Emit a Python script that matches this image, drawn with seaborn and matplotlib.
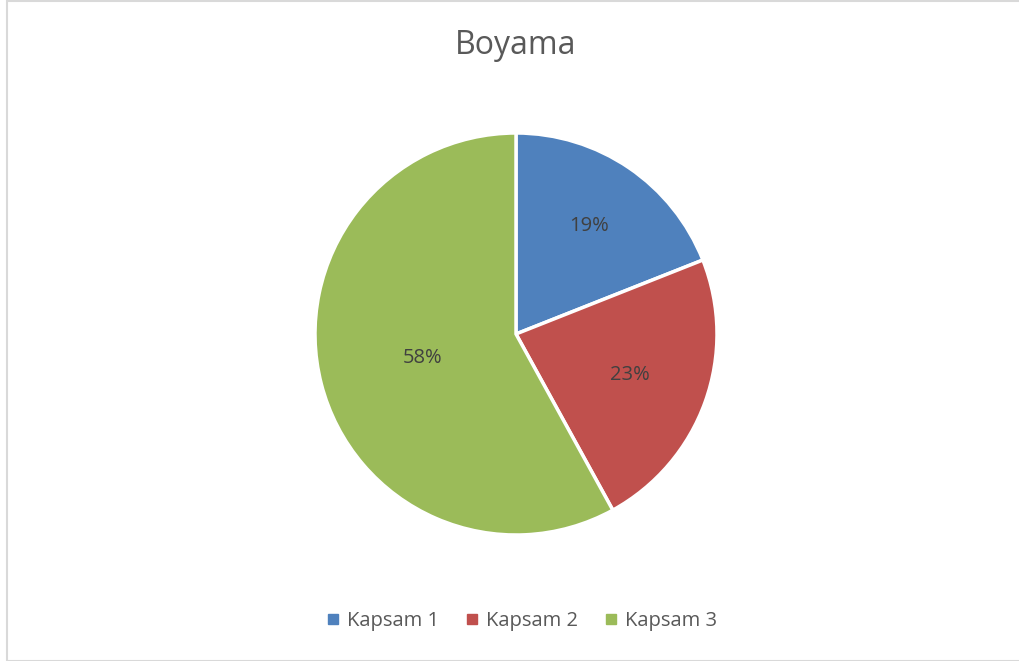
import matplotlib
matplotlib.use("Agg")
import numpy as np
import matplotlib.pyplot as plt
from matplotlib.patches import Rectangle
from matplotlib.lines import Line2D
import seaborn as sns

categories = ["Kapsam 1", "Kapsam 2", "Kapsam 3"]
values = [19, 23, 58]
colors = ["#4F81BD", "#C0504D", "#9BBB59"]
title = "Boyama"
label_dist = [0.65, 0.60, 0.48]

sns.set_theme(style="white")
plt.rcParams["font.family"] = ["Open Sans", "DejaVu Sans"]

W, H = 1020, 661
fig = plt.figure(figsize=(W / 100, H / 100), dpi=100)
fig.patch.set_facecolor("white")

# pie axes: center (516,334), radius 201 px
cx, cy, r = 516, 334, 201
ax = fig.add_axes([(cx - r) / W, (H - cy - r) / H, 2 * r / W, 2 * r / H])
wedges, texts, autotexts = ax.pie(
    values, colors=colors, startangle=90, counterclock=False,
    autopct="%1.0f%%", pctdistance=0.64,
    wedgeprops=dict(edgecolor="white", linewidth=2.5),
    textprops=dict(color="#404040", fontsize=14.5),
)
for w, t, d in zip(wedges, autotexts, label_dist):
    ang = np.deg2rad((w.theta1 + w.theta2) / 2)
    t.set_position((d * np.cos(ang), d * np.sin(ang)))
ax.set_xlim(-1.0, 1.0)
ax.set_ylim(-1.0, 1.0)
ax.set_aspect("equal")
ax.axis("off")

fig.text(516 / W, 1 - 46 / H, title, ha="center", va="center",
         fontsize=23, color="#595959")

handles = [Line2D([0], [0], marker="s", linestyle="none", markersize=7,
                  markerfacecolor=c, markeredgecolor=c) for c in colors]
fig.legend(handles, categories, loc="center", bbox_to_anchor=(521 / W, 1 - 621 / H),
           ncol=3, frameon=False, fontsize=14.5, labelcolor="#595959",
           handletextpad=0.3, columnspacing=1.25, handlelength=0.8)

fig.add_artist(Rectangle((7.5 / W, 0.5 / H), (W + 5) / W, (659.5) / H,
                         transform=fig.transFigure, fill=False,
                         edgecolor="#D9D9D9", linewidth=1.5))

fig.savefig("out.png", dpi=100, facecolor="white")
